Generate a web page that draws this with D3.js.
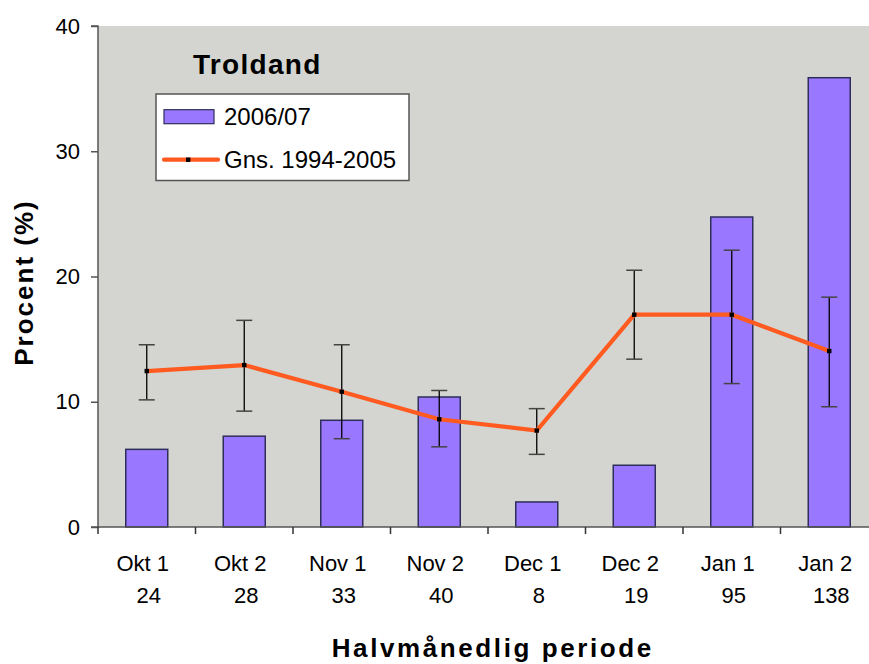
<!DOCTYPE html>
<html>
<head>
<meta charset="utf-8">
<script src="https://cdn.jsdelivr.net/npm/d3@7"></script>
<style>
html,body{margin:0;padding:0;background:#fff;}
svg{display:block;font-family:"Liberation Sans",Arial,sans-serif;}
</style>
</head>
<body>
<svg id="chart" width="869" height="664"></svg>
<script>
const categories = ["Okt 1","Okt 2","Nov 1","Nov 2","Dec 1","Dec 2","Jan 1","Jan 2"];
const counts = ["24","28","33","40","8","19","95","138"];
const season2006 = [6.2, 7.25, 8.52, 10.38, 2.0, 4.93, 24.75, 35.87];
const avg19942005 = [12.45, 12.93, 10.8, 8.6, 7.7, 16.95, 16.95, 14.05];
const errHigh = [14.55, 16.5, 14.55, 10.9, 9.45, 20.5, 22.1, 18.35];
const errLow = [10.15, 9.25, 7.05, 6.4, 5.8, 13.4, 11.45, 9.6];
const yTicks = [0, 10, 20, 30, 40];
const seriesNames = ["2006/07", "Gns. 1994-2005"];
const chartTitle = "Troldand";
const xTitle = "Halvmånedlig periode";
const yTitle = "Procent (%)";

(function(){
const svg = d3.select("#chart");
const pL = 98, pT = 26, pB = 527, pR = 878;
const x = d3.scaleBand().domain(categories).range([pL, pR]).paddingInner(0).paddingOuter(0);
const y = d3.scaleLinear().domain([0, 40]).range([pB, pT]);

const barColor = "#9977FF", lineColor = "#FF5A1F", bg = "#D4D5D0";

svg.append("rect").attr("x", pL).attr("y", pT).attr("width", pR - pL).attr("height", pB - pT).attr("fill", bg);

// bars
const bw = 42;
svg.append("g").selectAll("rect").data(season2006).join("rect")
  .attr("x", (d,i) => x(categories[i]) + x.bandwidth()/2 - bw/2)
  .attr("y", d => y(d))
  .attr("width", bw)
  .attr("height", d => y(0) - y(d))
  .attr("fill", barColor)
  .attr("stroke", "#2E2E5A")
  .attr("stroke-width", 1.5);

// y axis
const yAxis = d3.axisLeft(y).tickValues(yTicks).tickSize(7).tickPadding(11).tickFormat(d3.format("d"));
const gy = svg.append("g").attr("transform", `translate(${pL},0)`).call(yAxis);
gy.select(".domain").attr("stroke", "#555").attr("stroke-width", 1.5).attr("d", `M-7,${pT}H0V${pB}`);
gy.selectAll(".tick line").attr("stroke", "#555").attr("stroke-width", 1.5);
gy.selectAll(".tick text").attr("font-size", 22).attr("fill", "#000").attr("font-family", "Liberation Sans, Arial, sans-serif");

// x axis ticks at boundaries
const gx = svg.append("g");
gx.append("line").attr("x1", pL - 7).attr("x2", pR).attr("y1", pB).attr("y2", pB).attr("stroke", "#555").attr("stroke-width", 1.5);
const bounds = categories.map(c => x(c)).concat([pR]);
gx.selectAll("line.t").data(bounds).join("line").attr("class","t")
  .attr("x1", d => d).attr("x2", d => d).attr("y1", pB).attr("y2", pB + 7)
  .attr("stroke", "#333").attr("stroke-width", 1.5);
gx.selectAll("text.c").data(categories).join("text").attr("class","c")
  .attr("x", d => x(d) + x.bandwidth()/2 - 4)
  .attr("y", 571)
  .attr("text-anchor", "middle").attr("font-size", 22).text(d => d);
gx.selectAll("text.n").data(counts).join("text").attr("class","n")
  .attr("x", (d,i) => x(categories[i]) + x.bandwidth()/2 + 2)
  .attr("y", 603)
  .attr("text-anchor", "middle").attr("font-size", 22).text(d => d);

// error bars
const eg = svg.append("g");
const cx = (i) => x(categories[i]) + x.bandwidth()/2;
eg.selectAll("line.v").data(errHigh).join("line").attr("class","v")
  .attr("x1", (d,i) => cx(i)).attr("x2", (d,i) => cx(i))
  .attr("y1", d => y(d)).attr("y2", (d,i) => y(errLow[i]))
  .attr("stroke", "#000").attr("stroke-width", 1.3);
eg.selectAll("line.h").data(errHigh).join("line").attr("class","h")
  .attr("x1", (d,i) => cx(i) - 8).attr("x2", (d,i) => cx(i) + 8)
  .attr("y1", d => y(d)).attr("y2", d => y(d))
  .attr("stroke", "#444").attr("stroke-width", 1.5);
eg.selectAll("line.l").data(errLow).join("line").attr("class","l")
  .attr("x1", (d,i) => cx(i) - 8).attr("x2", (d,i) => cx(i) + 8)
  .attr("y1", d => y(d)).attr("y2", d => y(d))
  .attr("stroke", "#444").attr("stroke-width", 1.5);

// line
const line = d3.line().x((d,i) => cx(i)).y(d => y(d));
svg.append("path").datum(avg19942005).attr("d", line).attr("fill", "none")
  .attr("stroke", lineColor).attr("stroke-width", 4.2).attr("stroke-linejoin", "miter");
svg.append("g").selectAll("rect").data(avg19942005).join("rect")
  .attr("x", (d,i) => cx(i) - 2.2).attr("y", d => y(d) - 2.2)
  .attr("width", 4.4).attr("height", 4.4).attr("fill", "#000");

// title
svg.append("text").attr("x", 193).attr("y", 73.5).attr("font-size", 28).attr("font-weight", "bold")
  .attr("letter-spacing", 1.3).text(chartTitle);

// legend
const lg = svg.append("g");
lg.append("rect").attr("x", 156).attr("y", 94).attr("width", 253).attr("height", 86.5)
  .attr("fill", "#fff").attr("stroke", "#555").attr("stroke-width", 1.5);
lg.append("rect").attr("x", 164).attr("y", 109.7).attr("width", 50).attr("height", 14)
  .attr("fill", barColor).attr("stroke", "#2E2E5A").attr("stroke-width", 1.2);
lg.append("text").attr("x", 224).attr("y", 124.5).attr("font-size", 24).text(seriesNames[0]);
lg.append("line").attr("x1", 164).attr("x2", 218).attr("y1", 159.7).attr("y2", 159.7)
  .attr("stroke", lineColor).attr("stroke-width", 4.2).attr("stroke-linecap", "round");
lg.append("rect").attr("x", 186).attr("y", 157.5).attr("width", 4.4).attr("height", 4.4).attr("fill", "#000");
lg.append("text").attr("x", 224).attr("y", 168).attr("font-size", 24).text(seriesNames[1]);

// axis titles
svg.append("text").attr("x", 491.5 + 1.3).attr("y", 656.5).attr("text-anchor", "middle")
  .attr("font-size", 26).attr("font-weight", "bold").attr("letter-spacing", 2.6).text(xTitle);
svg.append("text").attr("transform", "translate(33,282.5) rotate(-90)").attr("text-anchor", "middle")
  .attr("font-size", 26).attr("font-weight", "bold").attr("letter-spacing", 2).text(yTitle);
})();
</script>
</body>
</html>
